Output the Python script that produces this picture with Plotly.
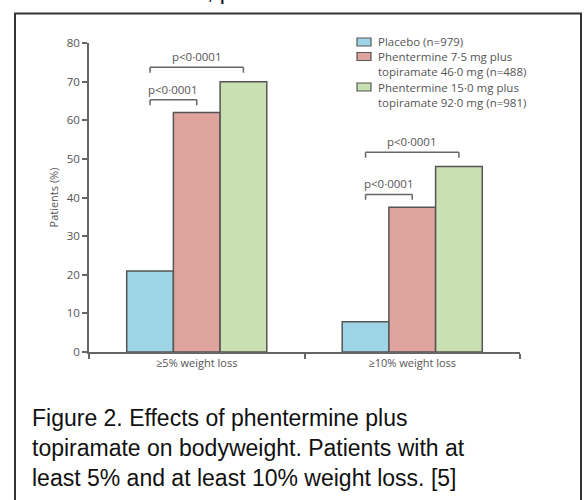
import plotly.graph_objects as go

# ---- data ----
categories = ["≥5% weight loss", "≥10% weight loss"]
series_names = [
    "Placebo (n=979)",
    "Phentermine 7·5 mg plus<br>topiramate 46·0 mg (n=488)",
    "Phentermine 15·0 mg plus<br>topiramate 92·0 mg (n=981)",
]
placebo = [21, 7.8]
low_dose = [62, 37.5]
high_dose = [70, 48]
p_label = "p<0·0001"
caption_lines = [
    "Figure 2. Effects of phentermine plus",
    "topiramate on bodyweight. Patients with at",
    "least 5% and at least 10% weight loss. [5]",
]

colors = ["#9ed5e6", "#e0a49f", "#c9e0b3"]
outline = "#555555"
axis_col = "#666666"
text_col = "#555555"
FONT = "Open Sans"

W, H = 584, 500
L, R, T, B = 89, 64, 43, 148
PW, PH = W - L - R, H - T - B


def px_x(px):
    return (px - L) / PW


def px_y(py):
    return (H - B - py) / PH


fig = go.Figure()
for name, vals, col in zip(series_names, [placebo, low_dose, high_dose], colors):
    fig.add_bar(
        x=categories, y=vals, name=name, showlegend=False,
        marker=dict(color=col, line=dict(color=outline, width=1.5)),
    )

bargap = 0.35
bar_w = (1 - bargap) / 3
shapes = []
annotations = []

# significance brackets: placebo vs each active arm
for ci in range(len(categories)):
    x_left = ci - bar_w
    for k, (vals, lift) in enumerate([(low_dose, 3.3), (high_dose, 3.7)]):
        x_right = ci + k * bar_w
        y_top = vals[ci] + lift
        y_leg = y_top - 1.4
        for x0, y0, x1, y1 in [
            (x_left, y_leg, x_left, y_top),
            (x_left, y_top, x_right, y_top),
            (x_right, y_top, x_right, y_leg),
        ]:
            shapes.append(dict(type="line", xref="x", yref="y", x0=x0, y0=y0,
                               x1=x1, y1=y1, line=dict(color=axis_col, width=1.5)))
        annotations.append(dict(
            x=(x_left + x_right) / 2, y=y_top, xref="x", yref="y",
            text=p_label, showarrow=False, yanchor="bottom", yshift=1,
            font=dict(family=FONT, size=11.5, color=text_col),
        ))

# legend: one swatch per series, label lines placed one by one
legend_first_line = [42.0, 56.5, 87.0]
line_step = 15.4
for idx, y0 in enumerate(legend_first_line):
    shapes.append(dict(type="rect", xref="paper", yref="paper",
                       x0=px_x(357), x1=px_x(371), y0=px_y(y0 + 4), y1=px_y(y0 - 4),
                       fillcolor=colors[idx], line=dict(color=outline, width=1.2)))
    for j, part in enumerate(series_names[idx].split("<br>")):
        annotations.append(dict(
            x=px_x(377), y=px_y(y0 + j * line_step), xref="paper", yref="paper",
            text=part, showarrow=False, xanchor="left", yanchor="middle",
            borderpad=0, font=dict(family=FONT, size=11.5, color=text_col),
        ))

# outer frame
shapes.append(dict(type="rect", xref="paper", yref="paper",
                   x0=px_x(15), x1=px_x(581), y0=px_y(520), y1=px_y(13.5),
                   line=dict(color="#333333", width=2), fillcolor="rgba(0,0,0,0)"))

# caption
for i, line in enumerate(caption_lines):
    annotations.append(dict(
        x=px_x(30), y=px_y(418 + 30 * i), xref="paper", yref="paper",
        text=line, showarrow=False, xanchor="left", yanchor="middle",
        font=dict(family="Liberation Sans, Arial", size=23, color="#111111"),
    ))

# tail of the preceding text line
annotations.append(dict(
    x=px_x(205), y=px_y(6), xref="paper", yref="paper", text=", p",
    showarrow=False, xanchor="left", yanchor="bottom",
    font=dict(family="Liberation Sans, Arial", size=23, color="#111111"),
))

fig.update_layout(
    width=W, height=H,
    margin=dict(l=L, r=R, t=T, b=B, pad=0),
    paper_bgcolor="white", plot_bgcolor="white",
    barmode="group", bargap=bargap, bargroupgap=0,
    shapes=shapes, annotations=annotations,
    font=dict(family=FONT, size=11, color=text_col),
    xaxis=dict(
        type="category", range=[-0.5, 1.5], tickson="boundaries",
        ticks="outside", ticklen=5, tickwidth=1.5, tickcolor=axis_col,
        showline=True, linecolor=axis_col, linewidth=1.5, showgrid=False,
        tickfont=dict(family=FONT, size=11, color=text_col),
    ),
    yaxis=dict(
        range=[0, 80], dtick=10, ticks="outside", ticklen=5, tickwidth=1.5,
        tickcolor=axis_col, showline=True, linecolor=axis_col, linewidth=1.5,
        showgrid=False, zeroline=False,
        tickfont=dict(family=FONT, size=11.5, color=text_col),
        title=dict(text="Patients (%)", standoff=6,
                   font=dict(family=FONT, size=11, color=text_col)),
    ),
)

fig.write_html("out.html")
